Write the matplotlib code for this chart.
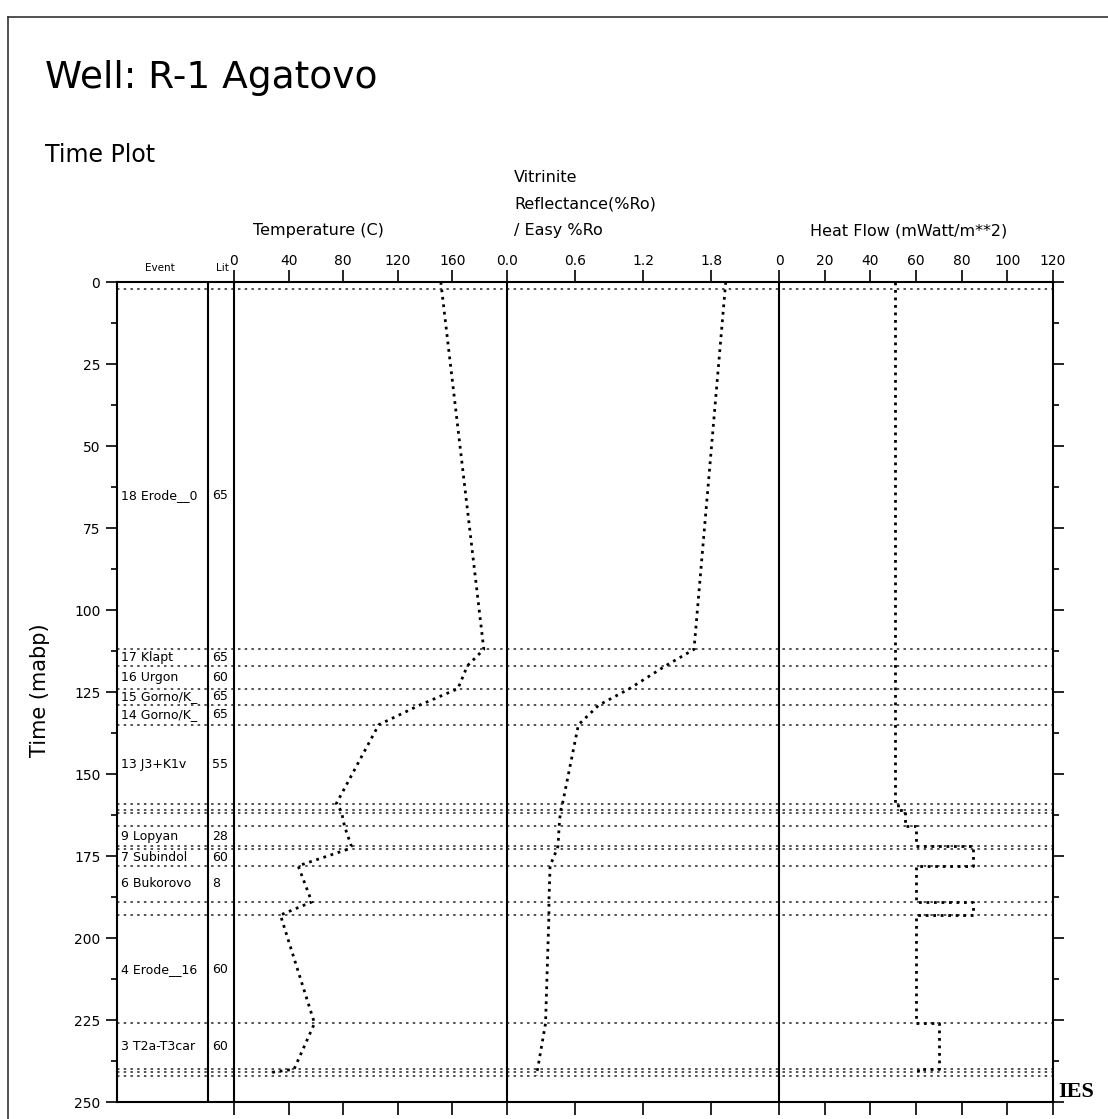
import matplotlib.pyplot as plt
import matplotlib.ticker as mticker
from matplotlib.lines import Line2D

W, H = 1108, 1119

# event boundaries (time, mabp)
event_bounds = [2, 112, 117, 124, 129, 135, 159, 161, 162, 166, 172, 173,
                178, 189, 193, 226, 240, 241, 242]
event_names = ["18 Erode__0", "17 Klapt", "16 Urgon", "15 Gorno/K_", "14 Gorno/K_",
               "13 J3+K1v", "9 Lopyan", "7 Subindol", "6 Bukorovo", "4 Erode__16",
               "3 T2a-T3car"]
event_lit = ["65", "65", "60", "65", "65", "55", "28", "60", "8", "60", "60"]
event_label_t = [65, 114.5, 120.5, 126.5, 132, 147, 169, 175.5, 183.5, 209.5, 233]

# temperature (C) and vitrinite reflectance (%Ro) histories
curve_t = [0, 112, 117, 124, 129, 135, 159, 161, 162, 166, 172, 173, 178,
           189, 193, 226, 240, 241, 242]
temp_c = [151.5, 183, 171, 164, 136, 106, 75, 78, 79, 81, 86, 83, 47,
          57, 34, 59, 44, 27, 27]
ro = [1.93, 1.65, 1.40, 1.08, 0.81, 0.63, 0.49, 0.475, 0.47, 0.46, 0.45, 0.44,
      0.38, 0.37, 0.37, 0.34, 0.27, 0.26, 0.26]

# heat flow (mWatt/m**2), constant per interval
hf_top = [0, 159, 161, 166, 172, 178, 189, 193, 226, 240]
hf_bot = [159, 161, 166, 172, 178, 189, 193, 226, 240, 242]
hf_val = [51, 52, 55, 60, 85, 60, 85, 60, 70, 61]

temp_ticks = [0, 40, 80, 120, 160]
ro_ticks = [0.0, 0.6, 1.2, 1.8]
hf_ticks = [0, 20, 40, 60, 80, 100, 120]


def box(x0, y0, x1, y1):
    return [x0 / W, 1 - y1 / H, (x1 - x0) / W, (y1 - y0) / H]


def fx(x):
    return x / W


def fy(y):
    return 1 - y / H


fig = plt.figure(figsize=(W / 100, H / 100), dpi=100)
plt.rcParams['font.family'] = 'DejaVu Sans'

dot_curve = (0, (1.0, 1.7))
dot_event = (0, (1.6, 2.8))

# main frame with time axis
ax = fig.add_axes(box(117, 282, 1053, 1102))
ax.set_xlim(117, 1053)
ax.set_ylim(250, 0)
for s in ax.spines.values():
    s.set_linewidth(1.5)
ax.set_xticks([])
ax.yaxis.set_major_locator(mticker.MultipleLocator(25))
ax.yaxis.set_minor_locator(mticker.MultipleLocator(12.5))
ax.tick_params(axis='y', which='both', direction='out', left=True, right=True,
               labelsize=10, width=1.2, pad=4)
ax.tick_params(axis='y', which='major', length=8)
ax.tick_params(axis='y', which='minor', length=4)

ax.hlines(event_bounds, 117, 1053, colors='#222222', linewidth=1.1,
          linestyles=[dot_event])
ax.axvline(208, color='k', linewidth=1.5)

for name, lit, t in zip(event_names, event_lit, event_label_t):
    ax.text(121, t, name, ha='left', va='center', fontsize=9)
    ax.text(212, t, lit, ha='left', va='center', fontsize=9)


def panel(x0, x1, xmax, ticks, labels):
    p = fig.add_axes(box(x0, 282, x1, 1102))
    p.patch.set_visible(False)
    p.set_xlim(0, xmax)
    p.set_ylim(250, 0)
    for k in ['top', 'bottom', 'right']:
        p.spines[k].set_visible(False)
    p.spines['left'].set_linewidth(1.5)
    p.set_yticks([])
    p.set_xticks(ticks)
    p.set_xticklabels(labels)
    p.tick_params(axis='x', direction='out', top=True, bottom=True,
                  labeltop=True, labelbottom=False, length=9, width=1.2,
                  labelsize=10, pad=1)
    return p


ax_t = panel(234, 507, 200, temp_ticks, [str(v) for v in temp_ticks])
ax_t.plot(temp_c, curve_t, color='k', linewidth=2, linestyle=dot_curve)

ax_r = panel(507, 779, 2.4, ro_ticks, ["%.1f" % v for v in ro_ticks])
ax_r.plot(ro, curve_t, color='k', linewidth=2, linestyle=dot_curve)

ax_h = panel(779, 1053, 120, hf_ticks, [str(v) for v in hf_ticks])
hx, hy = [], []
for top, bot, v in zip(hf_top, hf_bot, hf_val):
    hx += [v, v]
    hy += [top, bot]
ax_h.plot(hx, hy, color='k', linewidth=2, linestyle=dot_curve)

# texts
fig.text(fx(45), fy(78), "Well: R-1 Agatovo", fontsize=27, va='center', ha='left')
fig.text(fx(45), fy(155), "Time Plot", fontsize=17, va='center', ha='left')
fig.text(fx(40), fy(690), "Time (mabp)", fontsize=15, rotation=90,
         va='center', ha='center')
fig.text(fx(160), fy(268), "Event", fontsize=7.5, va='center', ha='center')
fig.text(fx(222), fy(268), "Lit", fontsize=7.5, va='center', ha='center')
fig.text(fx(318), fy(231), "Temperature (C)", fontsize=11.5, va='center', ha='center')
fig.text(fx(514), fy(178), "Vitrinite", fontsize=11.5, va='center', ha='left')
fig.text(fx(514), fy(204), "Reflectance(%Ro)", fontsize=11.5, va='center', ha='left')
fig.text(fx(514), fy(231), "/ Easy %Ro", fontsize=11.5, va='center', ha='left')
fig.text(fx(909), fy(231), "Heat Flow (mWatt/m**2)", fontsize=11.5,
         va='center', ha='center')
fig.text(fx(1058), fy(1092), "IES", fontsize=16, fontweight='bold',
         family='Liberation Serif', va='center', ha='left')

# outer border
fig.add_artist(Line2D([fx(8), fx(8)], [0, fy(17)], transform=fig.transFigure,
                      color='#333333', linewidth=1.2))
fig.add_artist(Line2D([fx(8), 1], [fy(17), fy(17)], transform=fig.transFigure,
                      color='#333333', linewidth=1.2))

fig.savefig("out.png", dpi=100)
